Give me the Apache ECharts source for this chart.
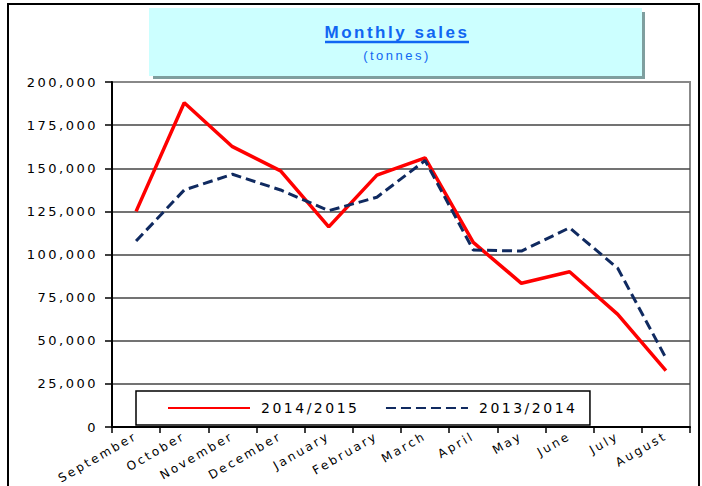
<!DOCTYPE html>
<html>
<head>
<meta charset="utf-8">
<script src="https://cdn.jsdelivr.net/npm/echarts@6/dist/echarts.min.js"></script>
<style>
  body { margin: 0; background: #fff; }
  #main { width: 702px; height: 486px; letter-spacing: 2.5px; }
</style>
</head>
<body>
<div id="main"></div>
<script>
// months, fiscal year Sept -> Aug
const months = ['September', 'October', 'November', 'December', 'January', 'February',
  'March', 'April', 'May', 'June', 'July', 'August'];
const seriesNames = ['2014/2015', '2013/2014'];
// tonnes
const sales1415 = [125000, 188000, 162500, 148500, 116000, 146000, 156000, 107000, 83300, 90000, 65300, 32700];
const sales1314 = [107800, 137400, 146500, 137400, 125400, 133200, 154500, 102600, 102000, 115500, 92000, 40000];
const yMax = 200000;
const yStep = 25000;

const titleBlue = '#1066f2';
const axisFont = 'DejaVu Sans';

let mychart = echarts.init(document.getElementById('main'), null, { renderer: 'svg' });

const option = {
  backgroundColor: '#fff',
  animation: false,
  graphic: [
    // outer frame
    { type: 'rect', shape: { x: 8, y: 4, width: 691, height: 500 },
      style: { fill: 'none', stroke: '#000', lineWidth: 2 }, silent: true },
    // title box + shadow
    { type: 'rect', shape: { x: 153, y: 12, width: 492, height: 67 },
      style: { fill: '#7f9f9f' }, silent: true },
    { type: 'rect', shape: { x: 149, y: 8, width: 493, height: 68 },
      style: { fill: '#ccffff' }, silent: true },
    { type: 'text', silent: true,
      style: { text: 'Monthly sales', x: 397, y: 32, font: 'bold 17px "Liberation Sans", Arial',
        fill: titleBlue, align: 'center', verticalAlign: 'middle',
        textAlign: 'center', textVerticalAlign: 'middle' } },
    { type: 'line', silent: true, shape: { x1: 325, y1: 42, x2: 469, y2: 42 },
      style: { stroke: titleBlue, lineWidth: 2.5 } },
    { type: 'text', silent: true,
      style: { text: '(tonnes)', x: 397, y: 55, font: '13px "Liberation Sans", Arial',
        fill: titleBlue, align: 'center', verticalAlign: 'middle',
        textAlign: 'center', textVerticalAlign: 'middle' } }
  ],
  grid: {
    left: 112, right: 12, top: 82, bottom: 59,
    show: true, borderColor: '#888', borderWidth: 2
  },
  legend: {
    data: seriesNames,
    left: 136, top: 391,
    padding: [10, 35, 10, 31],
    itemGap: 48,
    itemWidth: 82, itemHeight: 14,
    borderColor: '#000', borderWidth: 1.5,
    backgroundColor: '#fff',
    itemStyle: { opacity: 0 },  // line only, no marker dot
    textStyle: { fontFamily: axisFont, fontSize: 14, color: '#000', padding: [0, 0, 0, 6] }
  },
  xAxis: {
    type: 'category',
    data: months,
    boundaryGap: true,
    axisLine: { lineStyle: { color: '#000', width: 2 } },
    axisTick: { show: true, length: 6, interval: 0, lineStyle: { color: '#000', width: 1.5 } },
    axisLabel: { interval: 0, rotate: 30, margin: 8, fontFamily: axisFont, fontSize: 12, color: '#000' },
    splitLine: { show: false }
  },
  yAxis: {
    type: 'value',
    min: 0, max: yMax, interval: yStep,
    axisLine: { show: true, lineStyle: { color: '#000', width: 2 } },
    axisTick: { show: true, length: 7, lineStyle: { color: '#000', width: 1.5 } },
    axisLabel: {
      margin: 14, fontFamily: axisFont, fontSize: 13, color: '#000',
      formatter: v => v.toLocaleString('en-US')
    },
    splitLine: { show: true, showMinLine: false, showMaxLine: false, lineStyle: { color: '#444', width: 1.5 } }
  },
  series: [
    {
      name: seriesNames[0], type: 'line', data: sales1415,
      symbol: 'none', smooth: false,
      itemStyle: { color: '#ff0000' },
      lineStyle: { color: '#ff0000', width: 3.5 }
    },
    {
      name: seriesNames[1], type: 'line', data: sales1314,
      symbol: 'none', smooth: false,
      itemStyle: { color: '#102a60' },
      lineStyle: { color: '#102a60', width: 3, type: [10, 5] }
    }
  ]
};

mychart.setOption(option);
</script>
</body>
</html>
